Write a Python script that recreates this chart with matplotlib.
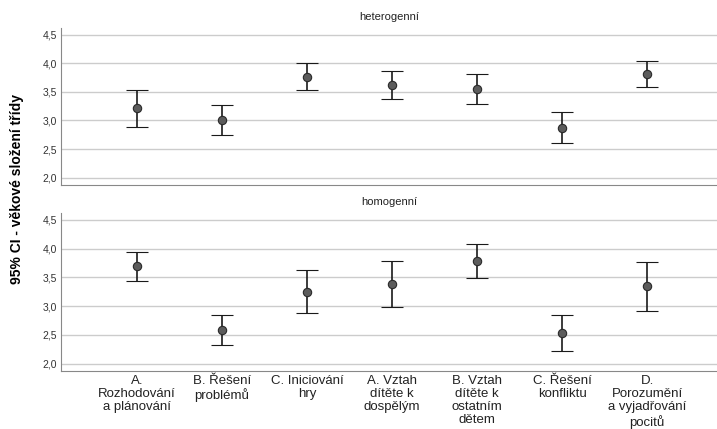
import numpy as np
import matplotlib.pyplot as plt

plt.rcParams['font.family'] = ['Liberation Sans', 'DejaVu Sans']

categories = ["A.\nRozhodování\na plánování", "B. Řešení\nproblémů", "C. Iniciování\nhry",
              "A. Vztah\ndítěte k\ndospělým", "B. Vztah\ndítěte k\nostatním\ndětem",
              "C. Řešení\nkonfliktu", "D.\nPorozumění\na vyjadřování\npocitů"]
groups = ["heterogenní", "homogenní"]

# mean, lower and upper bound of 95% CI
het_mean = [3.21, 3.01, 3.77, 3.62, 3.55, 2.87, 3.82]
het_low = [2.89, 2.75, 3.53, 3.38, 3.28, 2.61, 3.58]
het_high = [3.53, 3.27, 4.01, 3.87, 3.82, 3.14, 4.04]

hom_mean = [3.69, 2.59, 3.25, 3.38, 3.78, 2.53, 3.35]
hom_low = [3.44, 2.32, 2.88, 2.98, 3.48, 2.22, 2.92]
hom_high = [3.94, 2.84, 3.62, 3.78, 4.08, 2.84, 3.77]

yticks = [2.0, 2.5, 3.0, 3.5, 4.0, 4.5]
ytick_labels = ["2,0", "2,5", "3,0", "3,5", "4,0", "4,5"]

fig = plt.figure(figsize=(7.17, 4.29), dpi=100)
ax1 = fig.add_axes([0.085, 0.5688, 0.915, 0.366])
ax2 = fig.add_axes([0.085, 0.1352, 0.915, 0.3683])

x = np.arange(len(categories))
data = [(het_mean, het_low, het_high), (hom_mean, hom_low, hom_high)]

for ax, title, (m, lo, hi) in zip([ax1, ax2], groups, data):
    m = np.array(m)
    err = np.vstack([m - np.array(lo), np.array(hi) - m])
    ax.errorbar(x, m, yerr=err, fmt='o', color='#5c5c5c', ecolor='#1a1a1a',
                elinewidth=1.2, capsize=8, capthick=1.2, markersize=6,
                markeredgecolor='#2a2a2a', markeredgewidth=0.8, zorder=3)
    ax.set_xlim(-0.894, 6.82)
    ax.set_ylim(1.87, 4.62)
    ax.set_yticks(yticks)
    ax.set_yticklabels(ytick_labels, fontsize=7.5, color='#333333')
    ax.grid(axis='y', color='#cccccc', linewidth=1)
    ax.set_axisbelow(True)
    for s in ['top', 'right']:
        ax.spines[s].set_visible(False)
    for s in ['left', 'bottom']:
        ax.spines[s].set_color('#888888')
    ax.tick_params(axis='y', length=0, pad=3)
    ax.set_title(title, fontsize=8, pad=6, color='#222222')
    ax.set_xticks(x)

ax1.tick_params(axis='x', length=0, labelbottom=False)
ax2.tick_params(axis='x', length=0, pad=3)
ax2.set_xticklabels(categories, fontsize=9.5, color='#222222', linespacing=1.12)

fig.text(0.024, 0.56, "95% CI - věkové složení třídy", rotation=90, fontsize=10,
         fontweight='bold', ha='center', va='center')

fig.savefig("out.png", dpi=100)
